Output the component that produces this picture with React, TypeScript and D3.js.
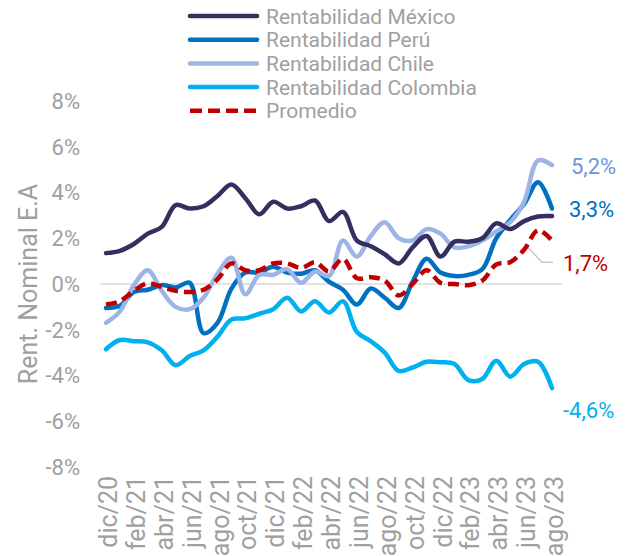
import React from "react";
import * as d3 from "d3";

const months = [
  "dic/20","ene/21","feb/21","mar/21","abr/21","may/21","jun/21","jul/21","ago/21","sep/21","oct/21","nov/21",
  "dic/21","ene/22","feb/22","mar/22","abr/22","may/22","jun/22","jul/22","ago/22","sep/22","oct/22","nov/22",
  "dic/22","ene/23","feb/23","mar/23","abr/23","may/23","jun/23","jul/23","ago/23"
];

const mexico = [1.35,1.45,1.75,2.2,2.5,3.45,3.3,3.4,3.85,4.35,3.75,3.05,3.6,3.3,3.4,3.65,2.75,3.15,1.9,1.65,1.3,0.9,1.6,2.1,1.2,1.85,1.85,2.0,2.65,2.4,2.75,2.95,2.97];
const peru = [-1.05,-0.95,-0.35,-0.25,-0.05,-0.15,0.05,-2.15,-1.7,-0.2,0.5,0.5,0.75,0.5,0.45,0.6,0.1,-0.25,-0.9,-0.2,-0.6,-1.05,0.1,1.1,0.5,0.35,0.4,0.65,2.0,2.8,3.5,4.45,3.3];
const chile = [-1.7,-1.2,-0.05,0.6,-0.3,-1.0,-1.1,-0.6,0.45,1.15,-0.45,0.4,0.4,0.65,0.05,0.55,0.35,1.9,1.2,2.1,2.7,2.0,1.9,2.4,2.2,1.6,1.65,1.9,2.3,2.7,3.6,5.4,5.2];
const colombia = [-2.85,-2.45,-2.5,-2.55,-2.9,-3.55,-3.15,-2.9,-2.3,-1.55,-1.5,-1.3,-1.1,-0.6,-1.2,-0.75,-1.25,-0.75,-2.1,-2.5,-3.0,-3.8,-3.65,-3.4,-3.42,-3.5,-4.2,-4.15,-3.35,-4.05,-3.5,-3.4,-4.55];
const promedio = [-0.9,-0.75,-0.3,0.03,-0.12,-0.3,-0.35,-0.25,0.2,0.9,0.6,0.6,0.9,0.9,0.7,0.95,0.55,1.1,0.25,0.3,0.15,-0.5,0.0,0.6,0.05,0.0,-0.05,0.15,0.85,0.95,1.5,2.35,1.9];

const yTicks = [-8, -6, -4, -2, 0, 2, 4, 6, 8];

const seriesNames = ["Rentabilidad México", "Rentabilidad Perú", "Rentabilidad Chile", "Rentabilidad Colombia", "Promedio"];
const seriesColors = ["#33305F", "#0070C0", "#9DB5E6", "#00B0F0", "#C00000"];
const endLabels = ["", "3,3%", "5,2%", "-4,6%", "1,7%"];
const endLabelColors = ["", "#0070C0", "#7094DB", "#00B0F0", "#C00000"];

const FONT = "Roboto, 'Noto Sans', sans-serif";
const GRAY = "#A0A0A0";

export default function App() {
  const W = 634, H = 556;
  const x = d3.scalePoint<string>().domain(months).range([106, 552]);
  const y = d3.scaleLinear().domain([-8, 8]).range([467, 101]);
  const data = [mexico, peru, chile, colombia, promedio];
  const line = d3.line<number>()
    .x((_, i) => x(months[i]) as number)
    .y((v) => y(v))
    .curve(d3.curveCatmullRom.alpha(0.5));

  const drawOrder = [3, 1, 2, 0, 4];
  const last = months.length - 1;
  const lx = x(months[last]) as number;

  const labelPos: Record<number, [number, number]> = {
    2: [lx + 19, 166],
    1: [lx + 17, 209],
    4: [lx + 11, 263],
    3: [lx + 11, 410],
  };

  return (
    <div style={{ position: "fixed", left: 0, top: 0 }}>
      <svg width={W} height={H} style={{ display: "block", background: "#fff" }}>
        {/* zero line */}
        <line x1={100} x2={562} y1={y(0)} y2={y(0)} stroke="#D9D9D9" strokeWidth={1.5} />

        {/* y ticks */}
        {yTicks.map((t) => (
          <text key={t} x={80} y={y(t)} dy="0.36em" textAnchor="end" fontFamily={FONT} fontSize={22} fill={GRAY}>
            {t + "%"}
          </text>
        ))}

        {/* y title */}
        <text transform={`translate(37,${y(0)}) rotate(-90)`} textAnchor="middle" fontFamily={FONT} fontSize={25} fill={GRAY}>
          Rent. Nominal E.A
        </text>

        {/* x labels */}
        {months.map((m, i) =>
          i % 2 === 0 ? (
            <text key={m} transform={`translate(${(x(m) as number) + 2},476) rotate(-90)`} dy="0.36em" textAnchor="end" fontFamily={FONT} fontSize={25} fill={GRAY}>
              {m}
            </text>
          ) : null
        )}

        {/* leader line for promedio */}
        <polyline
          points={`${(x(months[last - 1]) as number) - 10},${y(1.6)} ${lx - 10},${y(0.95)} ${lx + 1},${y(0.95)}`}
          fill="none" stroke="#C8C8C8" strokeWidth={1.5}
        />

        {/* lines */}
        {drawOrder.map((si) => (
          <path
            key={si}
            d={line(data[si]) || ""}
            fill="none"
            stroke={seriesColors[si]}
            strokeWidth={4.5}
            strokeLinejoin="round"
            strokeLinecap={si === 4 ? "butt" : "round"}
            strokeDasharray={si === 4 ? "11 6" : undefined}
          />
        ))}

        {/* end labels */}
        {[1, 2, 3, 4].map((si) => (
          <text key={si} x={labelPos[si][0]} y={labelPos[si][1]} dy="0.36em" fontFamily={FONT} fontSize={22} fill={endLabelColors[si]}>
            {endLabels[si]}
          </text>
        ))}

        {/* legend */}
        {seriesNames.map((n, i) => {
          const ly = 16 + i * 23.7;
          return (
            <g key={n}>
              <line x1={190} x2={257} y1={ly} y2={ly} stroke={seriesColors[i]} strokeWidth={4.5}
                strokeLinecap={i === 4 ? "butt" : "round"} strokeDasharray={i === 4 ? "12 6" : undefined} />
              <text x={266} y={ly} dy="0.36em" fontFamily={FONT} fontSize={21} fill={GRAY}>{n}</text>
            </g>
          );
        })}
      </svg>
    </div>
  );
}
